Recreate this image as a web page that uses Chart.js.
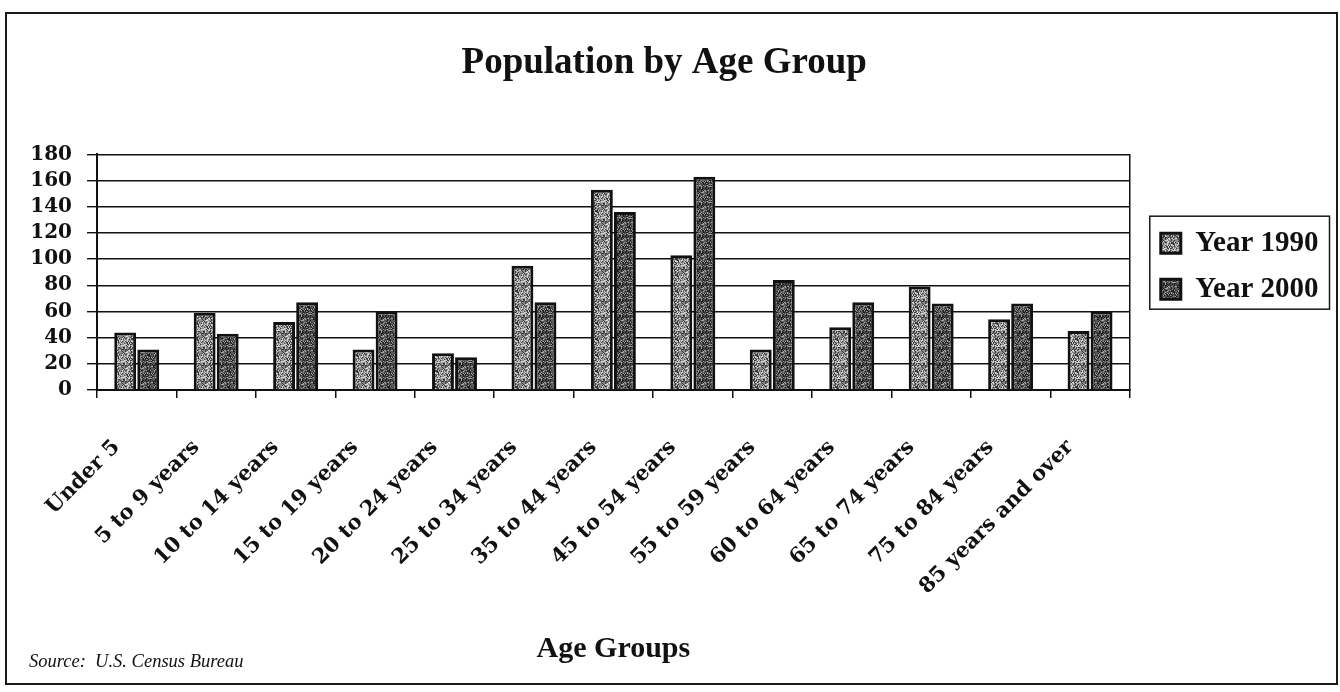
<!DOCTYPE html>
<html>
<head>
<meta charset="utf-8">
<title>Population by Age Group</title>
<script src="https://cdn.jsdelivr.net/npm/chart.js@4"></script>
<style>
  html, body { margin: 0; padding: 0; background: #ffffff; }
  #wrap { position: relative; width: 1340px; height: 692px; overflow: hidden; }
  #c { position: absolute; left: 0; top: 0; }
  #frame {
    position: absolute; left: 5px; top: 12px; width: 1333px; height: 673px;
    box-sizing: border-box; border: 2px solid #1a1a1a; pointer-events: none;
  }
  #source {
    position: absolute; left: 29px; top: 651px;
    font: italic 18.5px "Liberation Serif", serif; color: #111; white-space: pre;
  }
</style>
</head>
<body>
<div id="wrap">
  <canvas id="c" width="1340" height="692"></canvas>
  <div id="frame"></div>
  <div id="source">Source:  U.S. Census Bureau</div>
</div>
<script>
// Age groups along the category axis
const categories = [
  'Under 5', '5 to 9 years', '10 to 14 years', '15 to 19 years', '20 to 24 years',
  '25 to 34 years', '35 to 44 years', '45 to 54 years', '55 to 59 years',
  '60 to 64 years', '65 to 74 years', '75 to 84 years', '85 years and over'
];

// Population per age group
const year1990 = [44, 59, 52, 31, 28, 95, 153, 103, 31, 48, 79, 54, 45];
const year2000 = [31, 43, 67, 60, 25, 67, 136, 163, 84, 67, 66, 66, 60];

const seriesNames = ['Year 1990', 'Year 2000'];

// Value axis range
const yMin = 0;
const yMax = 180;
const yStep = 20;

// Speckled print-style fill, built from a fixed hash so it is identical on every load
function stipple(base, light, dark, pLight, pDark) {
  const tile = document.createElement('canvas');
  tile.width = tile.height = 16;
  const g = tile.getContext('2d');
  for (let y = 0; y < 16; y++) {
    for (let x = 0; x < 16; x++) {
      let h = Math.imul(x + 1, 374761393) + Math.imul(y + 7, 668265263);
      h = Math.imul(h ^ (h >>> 13), 1274126177);
      h = (h ^ (h >>> 16)) >>> 0;
      const v = (h % 1000) / 1000;
      g.fillStyle = v < pDark ? dark : (v > 1 - pLight ? light : base);
      g.fillRect(x, y, 1, 1);
    }
  }
  return g.createPattern(tile, 'repeat');
}

const fill1990 = stipple('#8a8a8a', '#d4d4d4', '#383838', 0.24, 0.26);
const fill2000 = stipple('#585858', '#a4a4a4', '#1c1c1c', 0.16, 0.32);

const serif = '"Liberation Serif", "Times New Roman", serif';
const wideSerif = '"DejaVu Serif", serif';

// Legend sits beside the upper-middle part of the plot area
const legendPlace = {
  id: 'legendPlace',
  afterLayout(chart) {
    const lg = chart.legend;
    const area = chart.chartArea;
    if (!lg || !area) return;
    const oldMid = (lg.top + lg.bottom) / 2;
    lg.top = area.top - 12;
    lg.bottom = area.bottom;
    lg.height = lg.bottom - lg.top;
    const shift = (lg.top + lg.bottom) / 2 - oldMid;
    (lg.legendHitBoxes || []).forEach(h => { h.top += shift; });
  }
};

// Box drawn round the legend entries
const legendFrame = {
  id: 'legendFrame',
  afterDraw(chart) {
    const lg = chart.legend;
    const hb = lg && lg.legendHitBoxes;
    if (!hb || !hb.length) return;
    const first = hb[0];
    const last = hb[hb.length - 1];
    const w = Math.max(...hb.map(h => h.width));
    const ctx = chart.ctx;
    ctx.save();
    ctx.strokeStyle = '#1a1a1a';
    ctx.lineWidth = 1.5;
    const top = first.top - 12.5;
    const bottom = last.top + last.height + 5.5;
    ctx.strokeRect(first.left - 11, top, w + 22, bottom - top);
    ctx.restore();
  }
};

new Chart(document.getElementById('c'), {
  type: 'bar',
  data: {
    labels: categories,
    datasets: [
      {
        label: seriesNames[0],
        data: year1990,
        backgroundColor: fill1990,
        borderColor: '#111111',
        borderWidth: 3,
        categoryPercentage: 0.58,
        barPercentage: 0.95
      },
      {
        label: seriesNames[1],
        data: year2000,
        backgroundColor: fill2000,
        borderColor: '#111111',
        borderWidth: 3,
        categoryPercentage: 0.58,
        barPercentage: 0.95
      }
    ]
  },
  options: {
    responsive: false,
    animation: false,
    devicePixelRatio: 1,
    layout: { padding: { left: 0, right: 11.5, top: 0, bottom: 20 } },
    plugins: {
      title: {
        display: true,
        text: 'Population by Age Group',
        color: '#111',
        font: { family: serif, size: 37, weight: 'bold', lineHeight: 1.2 },
        padding: { top: 41, bottom: 69 }
      },
      legend: {
        display: true,
        position: 'right',
        align: 'center',
        fullSize: false,
        labels: {
          color: '#111',
          font: { family: serif, size: 29, weight: 'bold' },
          boxWidth: 20,
          boxHeight: 20,
          padding: 17
        }
      },
      tooltip: { enabled: false }
    },
    scales: {
      x: {
        type: 'category',
        offset: true,
        grid: {
          display: true,
          offset: true,
          drawOnChartArea: false,
          drawTicks: true,
          tickLength: 8,
          color: '#111',
          lineWidth: 1.5
        },
        border: { display: true, color: '#111', width: 2 },
        ticks: {
          autoSkip: false,
          maxRotation: 45,
          minRotation: 45,
          padding: 37,
          labelOffset: -20,
          color: '#111',
          font: { family: wideSerif, size: 21, weight: 'bold' }
        },
        title: {
          display: true,
          text: 'Age Groups',
          color: '#111',
          font: { family: serif, size: 30, weight: 'bold', lineHeight: 1.2 },
          padding: { top: 0, bottom: 5 }
        },
        afterFit(scale) { scale.height = 282; }
      },
      y: {
        type: 'linear',
        position: 'left',
        min: yMin,
        max: yMax,
        ticks: {
          stepSize: yStep,
          autoSkip: false,
          padding: 15,
          color: '#111',
          font: { family: wideSerif, size: 20, weight: 'bold', lineHeight: 1 }
        },
        grid: {
          color: '#111',
          lineWidth: 1.4,
          drawTicks: true,
          tickLength: 10
        },
        border: { display: true, color: '#111', width: 2 },
        afterFit(scale) { scale.width = 97; }
      },
      frameRight: {
        type: 'linear',
        position: 'right',
        display: true,
        grid: { display: false },
        ticks: { display: false },
        border: { display: true, color: '#111', width: 1.5 },
        afterFit(scale) { scale.width = 14; }
      }
    }
  },
  plugins: [legendPlace, legendFrame]
});
</script>
</body>
</html>
